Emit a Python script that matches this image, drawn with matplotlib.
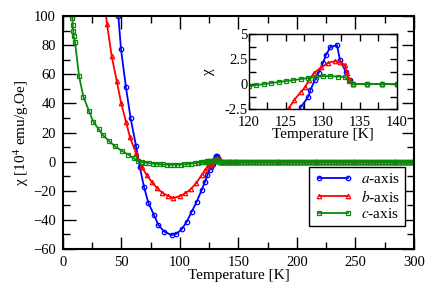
import matplotlib
matplotlib.use("Agg")
import matplotlib.pyplot as plt
from matplotlib.ticker import MultipleLocator

plt.rcParams['font.family'] = ['Liberation Serif', 'DejaVu Serif']
plt.rcParams['mathtext.fontset'] = 'stix'

# a-axis
T_a = [40, 44, 47.3, 49.6, 53.8, 57.8, 62.4, 65.6, 69.2, 72.9, 77.8, 81.5, 86.6, 92.9, 97,
       101.4, 105.7, 110, 114.3, 118.5, 121.4, 123.5, 125.3, 126.3, 127, 128, 128.3, 128.9,
       129.4, 130, 130.4, 131, 131.9, 132.3, 133.1, 133.6, 134]
chi_a = [190, 130, 100, 77, 51, 29.7, 10.9, -3.5, -17.2, -28.2, -36.7, -43.5, -48.1, -50.4, -49.5,
         -46.5, -41.3, -34.4, -27.5, -19.5, -13.8, -9, -5.5, -3.5, -2.3, -1.3, -0.6, 0.4,
         1.1, 2.1, 2.9, 3.7, 3.9, 2.4, 1.2, 0.4, 0.0]

# b-axis
T_b = [33, 37.6, 41.6, 45.9, 49.6, 53.8, 57.3, 62.4, 67.2, 71.5, 75.8, 80.1, 84.9, 90, 94.3,
       100, 104.3, 109.1, 113.7, 118.5, 121.4, 123.5, 125.4, 126.1, 127, 127.6, 128.1, 128.8,
       129.8, 130.7, 131.6, 132.3, 133, 133.2, 133.6, 134]
chi_b = [130, 94.5, 72.5, 55.6, 40.5, 27.4, 16.7, 5.7, -3.5, -9.2, -13.8, -17.9, -21.4, -23.6, -25,
         -23.6, -21.8, -19, -14.9, -9.2, -6, -4, -2.4, -1.6, -0.8, -0.3, 0.4, 1.1,
         1.7, 2.1, 2.3, 2.2, 1.9, 1.1, 0.4, 0.0]

# c-axis
T_c = [7.7, 8.0, 8.3, 8.8, 9.1, 10.3, 13.7, 17.4, 22.2, 25.9, 30.5, 34.4, 39.5, 44.4, 50.2,
       55.8, 60.7, 64.4, 67.5, 70.5, 73.5, 76.5, 79.5, 82.5, 85.5, 88.5, 91.5, 94.5, 97.5,
       100.5, 103.5, 106.5, 109.5, 112.5, 115.5, 118, 120, 121, 122, 123, 124, 125, 126,
       127, 128, 129, 130, 131, 132, 133, 133.5, 134]
chi_c = [104, 98.4, 93.8, 89.7, 86.3, 81.9, 58.8, 44.6, 34.8, 27.4, 22.3, 18, 14, 10.5, 7.4,
         4.8, 2.2, 0.3, -0.3, -0.7, -1.0, -1.3, -1.5, -1.7, -1.9, -2.0, -2.1, -2.1, -2.1,
         -2.0, -1.8, -1.6, -1.3, -1.0, -0.7, -0.5, -0.2, -0.1, 0.0, 0.1, 0.2, 0.3, 0.4,
         0.5, 0.6, 0.7, 0.8, 0.8, 0.75, 0.7, 0.3, 0.0]

# flat part above the transition, same for all three
T_tail = [136, 138, 140, 142, 144, 146, 148, 150, 152.5, 155, 157.5, 160, 162.5, 165, 167.5,
          170, 172.5, 175, 177.5, 180, 182.5, 185, 187.5, 190, 192.5, 195, 197.5, 200, 202.5,
          205, 207.5, 210, 212.5, 215, 217.5, 220, 222.5, 225, 227.5, 230, 232.5, 235, 237.5,
          240, 242.5, 245, 247.5, 250, 252.5, 255, 257.5, 260, 262.5, 265, 267.5, 270, 272.5,
          275, 277.5, 280, 282.5, 285, 287.5, 290, 292.5, 295, 297.5, 300]
chi_tail = [0.0] * len(T_tail)

labels = ['$a$-axis', '$b$-axis', '$c$-axis']
colors = ['#0000ff', '#ff0000', '#0a8a0a']
markers = ['o', '^', 's']

series = [(T_a + T_tail, chi_a + chi_tail),
          (T_b + T_tail, chi_b + chi_tail),
          (T_c + T_tail, chi_c + chi_tail)]

fig = plt.figure(figsize=(4.36, 2.94), dpi=100)
ax = fig.add_axes([0.1445, 0.153, 0.805, 0.7926])

for (t, c), lab, col, m in zip(series, labels, colors, markers):
    ax.plot(t, c, color=col, marker=m, ms=3.2, mfc='none', mew=0.9, lw=1.3, label=lab)

ax.set_xlim(0, 300)
ax.set_ylim(-60, 100)
ax.xaxis.set_major_locator(MultipleLocator(50))
ax.xaxis.set_minor_locator(MultipleLocator(25))
ax.yaxis.set_major_locator(MultipleLocator(20))
ax.yaxis.set_minor_locator(MultipleLocator(10))
ax.tick_params(which='both', direction='in', top=True, right=True, labelsize=10.5, width=1)
ax.tick_params(which='major', length=9, pad=5)
ax.tick_params(which='minor', length=5)
for s in ax.spines.values():
    s.set_linewidth(1.5)
ax.set_xlabel('Temperature [K]', fontsize=11, labelpad=0)
ax.set_ylabel('χ [10$^{4}$ emu/g.Oe]', fontsize=11, labelpad=2)

leg = ax.legend(loc='lower right', bbox_to_anchor=(0.995, 0.065), numpoints=2, fontsize=11,
                fancybox=False, edgecolor='black', framealpha=1, handlelength=2.5,
                borderpad=0.35, labelspacing=0.15, handletextpad=0.5)
leg.get_frame().set_linewidth(1)

# inset
ins = fig.add_axes([0.571, 0.629, 0.3394, 0.2551])
for (t, c), col, m in zip(series, colors, markers):
    ins.plot(t, c, color=col, marker=m, ms=3.2, mfc='none', mew=0.9, lw=1.3)
ins.set_xlim(120, 140)
ins.set_ylim(-2.5, 5)
ins.xaxis.set_major_locator(MultipleLocator(5))
ins.xaxis.set_minor_locator(MultipleLocator(2.5))
ins.yaxis.set_minor_locator(MultipleLocator(1.25))
ins.set_yticks([-2.5, 0, 2.5, 5])
ins.set_yticklabels(['-2.5', '0', '2.5', '5'])
ins.tick_params(which='both', direction='in', top=True, right=True, labelsize=10.5, width=1)
ins.tick_params(which='major', length=5)
ins.tick_params(which='minor', length=5)
ins.tick_params(axis='x', pad=5)
ins.tick_params(axis='y', pad=1)
for s in ins.spines.values():
    s.set_linewidth(1)
ins.set_xlabel('Temperature [K]', fontsize=11, labelpad=-1)
ins.set_ylabel('χ', fontsize=11, labelpad=7)

fig.savefig('out.png', dpi=100)
